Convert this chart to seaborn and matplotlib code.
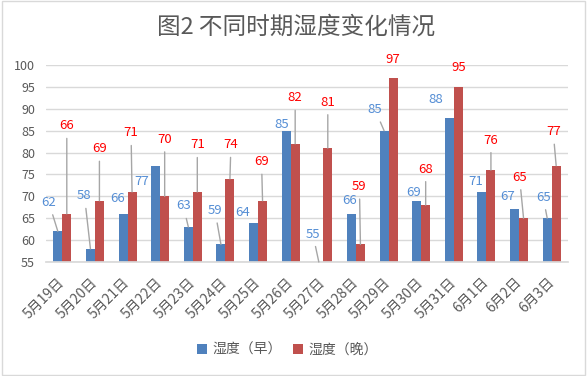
import matplotlib
matplotlib.use("Agg")
import matplotlib.pyplot as plt
import seaborn as sns
import pandas as pd
from matplotlib.patches import Rectangle, Patch

# ---- data ----
dates = ["5月19日", "5月20日", "5月21日", "5月22日", "5月23日", "5月24日", "5月25日", "5月26日",
         "5月27日", "5月28日", "5月29日", "5月30日", "5月31日", "6月1日", "6月2日", "6月3日"]
morning = [62, 58, 66, 77, 63, 59, 64, 85, 55, 66, 85, 69, 88, 71, 67, 65]
evening = [66, 69, 71, 70, 71, 74, 69, 82, 81, 59, 97, 68, 95, 76, 65, 77]
series_names = ["湿度（早）", "湿度（晚）"]
title = "图2 不同时期湿度变化情况"

# label offsets (pixels, x right / y up) as placed in the original chart
morning_off = [(-9, 29), (-6, 53), (-5, 15), (-14, -16), (-5, 21), (-6, 34), (-11, 10), (-5, 6),
               (-6, 28), (-2, 13), (-9, 21), (-3, 8), (-14, 18), (-6, 10), (-7, 13), (-4, 21)]
evening_off = [(0, 88), (0, 52), (-1, 59), (0, 57), (0, 47), (1, 34), (-1, 39), (0, 46),
               (0, 46), (-1, 58), (0, 19), (0, 36), (0, 19), (0, 30), (-4, 41), (-3, 34)]

df = pd.DataFrame({
    "date": dates * 2,
    "value": morning + evening,
    "series": [series_names[0]] * len(dates) + [series_names[1]] * len(dates),
})

sns.set_theme(style="white")
plt.rcParams["font.family"] = ["Noto Sans CJK SC", "DejaVu Sans"]

bar_colors = ["#4F81BD", "#C0504D"]
label_colors = ["#558ED5", "#FF0000"]
text_gray = "#595959"
grid_gray = "#D9D9D9"

fig = plt.figure(figsize=(5.87, 3.76), dpi=100)
ax = fig.add_axes([46 / 587, 1 - 262 / 376, (568 - 46) / 587, (262 - 65) / 376])

sns.barplot(data=df, x="date", y="value", hue="series", palette=bar_colors,
            width=0.55, gap=0, saturation=1, ax=ax, legend=False, errorbar=None,
            linewidth=0)

ax.set_ylim(55, 100)
ax.set_yticks(range(55, 101, 5))
ax.set_xlim(-0.5, len(dates) - 0.5)
ax.set_xlabel("")
ax.set_ylabel("")
ax.yaxis.grid(True, color=grid_gray, lw=1)
ax.set_axisbelow(True)
for s in ["left", "right", "top"]:
    ax.spines[s].set_visible(False)
ax.spines["bottom"].set_color(grid_gray)
ax.tick_params(axis="y", length=0, pad=8, labelsize=9, labelcolor=text_gray)
ax.tick_params(axis="x", length=0, pad=13, labelsize=10, labelcolor=text_gray)
for lab in ax.get_xticklabels():
    lab.set_rotation(45)
    lab.set_ha("right")
    lab.set_va("center")
    lab.set_rotation_mode("anchor")

# data labels
for k, (cont, offs) in enumerate(zip(ax.containers, [morning_off, evening_off])):
    for bar, (dx, dy) in zip(cont, offs):
        xc = bar.get_x() + bar.get_width() / 2
        v = bar.get_height()
        props = None
        if dy > 19.5:
            props = dict(arrowstyle="-", color="#A6A6A6", lw=1, shrinkA=2, shrinkB=0)
        ax.annotate(f"{v:.0f}", xy=(xc, v), xytext=(dx, dy), textcoords="offset pixels",
                    ha="center", va="center", fontsize=9.5, color=label_colors[k],
                    arrowprops=props, annotation_clip=False)

fig.suptitle(title, x=0.505, y=1 - 27 / 376, va="center", fontsize=17, color=text_gray)

handles = [Patch(facecolor=c, edgecolor="none") for c in bar_colors]
fig.legend(handles, series_names, loc="center", bbox_to_anchor=(0.49, 1 - 350 / 376),
           ncol=2, frameon=False, fontsize=10, labelcolor=text_gray,
           handlelength=0.7, handleheight=0.7, handletextpad=0.4, columnspacing=0.8)

fig.patches.append(Rectangle((0.003, 0.003), 0.994, 0.994, transform=fig.transFigure,
                             fill=False, edgecolor=grid_gray, lw=1))

fig.savefig("out.png", dpi=100)
